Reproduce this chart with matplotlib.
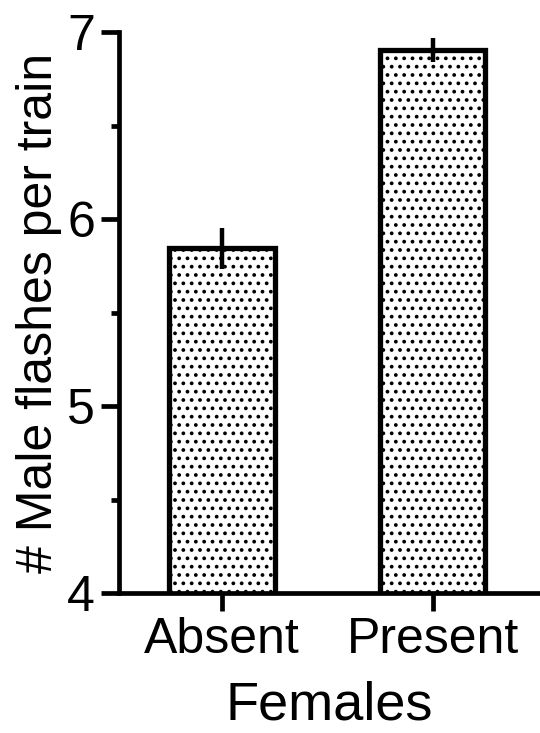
import matplotlib
matplotlib.use('Agg')
import matplotlib.pyplot as plt
from matplotlib.ticker import MultipleLocator

plt.rcParams['font.family'] = ['Liberation Sans', 'DejaVu Sans']
plt.rcParams['hatch.linewidth'] = 1.5

# data
groups = ['Absent', 'Present']
means = [5.845, 6.905]
errors = [0.11, 0.065]

fig = plt.figure(figsize=(5.4, 7.33), dpi=100)
ax = fig.add_axes([0.220, 0.191, 0.780, 0.765])

x = range(len(groups))
ax.bar(x, means, width=0.5, color='white', edgecolor='black',
       linewidth=3.8, hatch='..', zorder=2)
ax.errorbar(x, means, yerr=errors, fmt='none', ecolor='black',
            elinewidth=3.2, capsize=0, zorder=3)

ax.set_ylim(4, 7)
ax.set_xlim(-0.49, 1.51)
ax.set_xticks(list(x))
ax.set_xticklabels(groups)
ax.yaxis.set_major_locator(MultipleLocator(1))
ax.yaxis.set_minor_locator(MultipleLocator(0.5))

for s in ['top', 'right']:
    ax.spines[s].set_visible(False)
for s in ['left', 'bottom']:
    ax.spines[s].set_linewidth(3.4)

ax.tick_params(axis='both', which='major', length=13, width=3.4, labelsize=36, pad=4)
ax.tick_params(axis='y', which='minor', length=6, width=3.4)

ax.set_ylabel('# Male flashes per train', fontsize=36, labelpad=4)
ax.set_xlabel('Females', fontsize=39, labelpad=13)

fig.savefig('out.png', dpi=100)
